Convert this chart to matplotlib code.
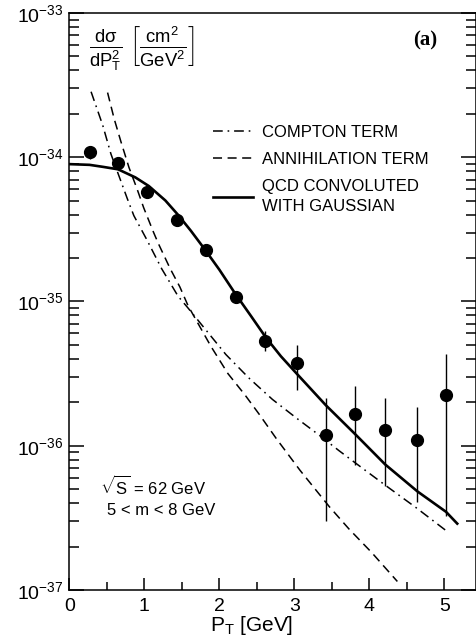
import numpy as np
import matplotlib
matplotlib.use("Agg")
import matplotlib.pyplot as plt
from matplotlib.ticker import FixedLocator, LogLocator, MultipleLocator, NullFormatter

plt.rcParams["font.family"] = ["Liberation Sans", "DejaVu Sans"]
plt.rcParams["mathtext.fontset"] = "custom"
plt.rcParams["mathtext.rm"] = "Liberation Sans"
plt.rcParams["mathtext.it"] = "Liberation Sans:italic"
plt.rcParams["mathtext.bf"] = "Liberation Sans:bold"
plt.rcParams["mathtext.default"] = "regular"
plt.rcParams["lines.scale_dashes"] = False

# measured points
pt = [0.27, 0.65, 1.04, 1.43, 1.82, 2.22, 2.61, 3.04, 3.42, 3.81, 4.21, 4.64, 5.02]
sigma = [1.08e-34, 9.06e-35, 5.71e-35, 3.66e-35, 2.28e-35, 1.07e-35, 5.35e-36,
         3.75e-36, 1.18e-36, 1.67e-36, 1.28e-36, 1.09e-36, 2.23e-36]
sigma_hi = [1.19e-34, 9.6e-35, 6.0e-35, 3.85e-35, 2.45e-35, 1.15e-35, 6.2e-36,
            5.0e-36, 2.15e-36, 2.6e-36, 2.15e-36, 1.86e-36, 4.3e-36]
sigma_lo = [9.7e-35, 8.6e-35, 5.4e-35, 3.45e-35, 2.12e-35, 0.99e-35, 4.5e-36,
            2.45e-36, 3.0e-37, 7.3e-37, 5.25e-37, 4.1e-37, 3.25e-37]

# curves (log10 of cross section)
qcd_pt = [0, 0.27, 0.45, 0.65, 0.88, 1.06, 1.28, 1.45, 1.62, 1.80, 2.0, 2.21,
          2.42, 2.62, 2.82, 3.03, 3.42, 3.81, 4.21, 4.64, 5.02, 5.17]
qcd_log = [-34.048, -34.053, -34.067, -34.084, -34.14, -34.2, -34.30, -34.40,
           -34.51, -34.635, -34.78, -34.945, -35.1, -35.25, -35.38, -35.5,
           -35.72, -35.92, -36.13, -36.317, -36.458, -36.54]

comp_pt = [0.29, 0.445, 0.555, 0.654, 0.772, 0.86, 1.03, 1.232, 1.45, 1.583,
           2.087, 2.39, 2.707, 3.031, 3.313, 3.596, 3.814, 4.214, 4.623, 5.05]
comp_log = [-33.546, -33.778, -33.978, -34.119, -34.286, -34.405, -34.569, -34.774,
            -34.964, -35.046, -35.368, -35.529, -35.679, -35.81, -35.92, -36.035,
            -36.12, -36.275, -36.43, -36.60]

ann_pt = [0.51, 0.598, 0.686, 0.795, 0.903, 0.991, 1.122, 1.188, 1.342, 1.474,
          1.583, 1.886, 2.114, 2.344, 2.528, 2.758, 3.074, 3.466, 3.727, 4.031, 4.372]
ann_log = [-33.552, -33.734, -33.889, -34.071, -34.22, -34.35, -34.52, -34.6,
           -34.77, -34.9, -35.03, -35.31, -35.5, -35.65, -35.78, -35.95, -36.17,
           -36.423, -36.577, -36.741, -36.941]

decades = [1e-37, 1e-36, 1e-35, 1e-34, 1e-33]

fig = plt.figure(figsize=(4.77, 6.41), dpi=100)
ax = fig.add_axes([0.1453, 0.0796, 0.8526, 0.9002])

ax.plot(comp_pt, 10 ** np.array(comp_log), color="black", lw=1.1,
        dashes=(7, 3.5, 1.2, 3.5), label="COMPTON TERM")
ax.plot(ann_pt, 10 ** np.array(ann_log), color="black", lw=1.1,
        dashes=(6.5, 4), label="ANNIHILATION TERM")
ax.plot(qcd_pt, 10 ** np.array(qcd_log), color="black", lw=1.9,
        label="QCD CONVOLUTED\nWITH GAUSSIAN")

yerr = [np.array(sigma) - np.array(sigma_lo), np.array(sigma_hi) - np.array(sigma)]
ax.errorbar(pt, sigma, yerr=yerr, fmt="o", color="black", ms=8.5, elinewidth=1.0,
            capsize=0)

ax.set_yscale("log")
ax.set_xlim(0, 5.42)
ax.set_ylim(decades[0], decades[-1])

ax.yaxis.set_major_locator(FixedLocator(decades))
ax.yaxis.set_minor_locator(LogLocator(base=10, subs=np.arange(2, 10), numticks=20))
ax.yaxis.set_minor_formatter(NullFormatter())
ax.set_yticklabels([r"$10^{%d}$" % round(np.log10(d)) for d in decades])
ax.xaxis.set_major_locator(MultipleLocator(1))
ax.xaxis.set_minor_locator(MultipleLocator(0.5))

ax.tick_params(axis="y", which="both", direction="in", left=True, right=True,
               labelsize=14, pad=4, width=1.1)
ax.tick_params(axis="y", which="major", length=11)
ax.tick_params(axis="y", which="minor", length=7)
ax.tick_params(axis="x", which="both", direction="in", top=False, labelsize=14,
               pad=6, width=1.1)
ax.tick_params(axis="x", which="major", length=9)
ax.tick_params(axis="x", which="minor", length=6)
for s in ax.spines.values():
    s.set_linewidth(1.1)

for tick in ax.yaxis.get_major_ticks():
    tick.label1.set_verticalalignment("center_baseline")

ax.set_xlabel("P$_T$ [GeV]", fontsize=15)
ax.xaxis.set_label_coords(0.449, -0.041)

ax.text(0.049, 0.938,
        r"$\frac{d\sigma}{dP_T^2}\;\left[\frac{cm^2}{GeV^2}\right]$",
        transform=ax.transAxes, fontsize=19, va="center", ha="left")
ax.text(0.876, 0.952, "(a)", transform=ax.transAxes, fontsize=15,
        fontweight="bold", family="Liberation Serif", ha="center", va="center")
ax.text(0.075, 0.18, r"$\sqrt{S}$ = 62 GeV", transform=ax.transAxes, fontsize=12,
        ha="left", va="center")
ax.text(0.092, 0.138, "5 < m < 8 GeV", transform=ax.transAxes, fontsize=12,
        ha="left", va="center")

leg = ax.legend(loc="upper left", bbox_to_anchor=(0.353, 0.806), frameon=False,
                fontsize=12, handlelength=2.4, handletextpad=0.55,
                labelspacing=0.72, borderpad=0, borderaxespad=0)
for t in leg.get_texts():
    t.set_linespacing(1.45)

fig.savefig("out.png", dpi=100)
